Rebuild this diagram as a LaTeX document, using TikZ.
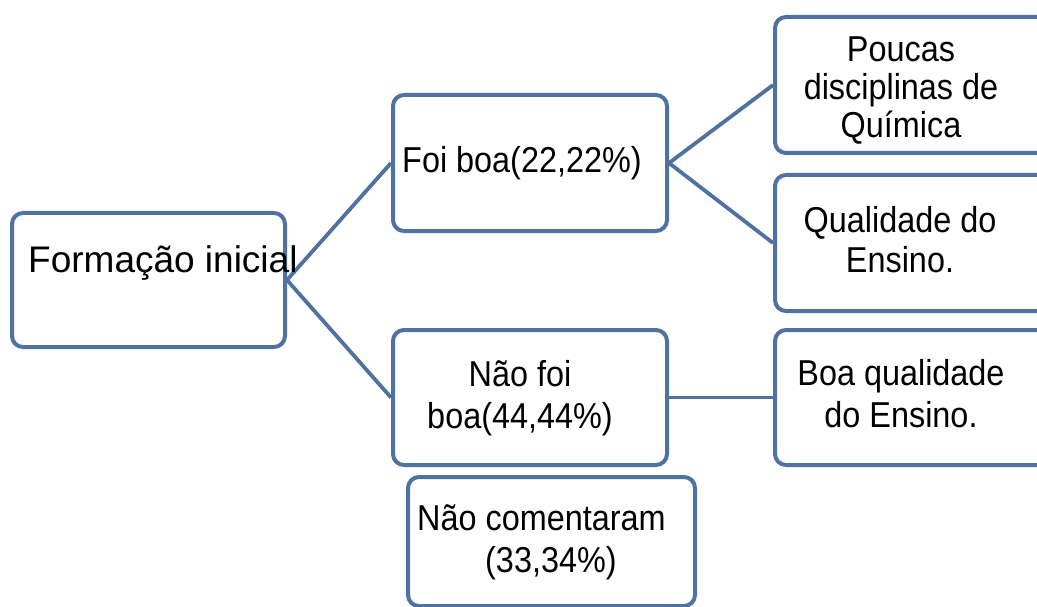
\documentclass[tikz,border=0pt]{standalone}
\usepackage{fontspec}
\setmainfont{Liberation Sans}
\newfontfamily\nfont[FakeStretch=0.9]{Liberation Sans}
\definecolor{boxblue}{RGB}{79,114,160}
\begin{document}
\begin{tikzpicture}[x=1pt,y=-1pt,
  box/.style={draw=boxblue, line width=4pt, rounded corners=11pt, rectangle, inner sep=0pt},
  conn/.style={draw=boxblue, line width=3.8pt},
  txt/.style={inner sep=0pt, anchor=base, font=\nfont\fontsize{36}{40}\selectfont}]
\useasboundingbox (0,0) rectangle (1037,607);
% boxes
\node[box, minimum width=273pt, minimum height=134pt] (A) at (148.5,280) {};
\node[box, minimum width=274pt, minimum height=136pt] (B) at (530,163) {};
\node[box, minimum width=275pt, minimum height=136pt] (C) at (912.5,85) {};
\node[box, minimum width=275pt, minimum height=136pt] (D) at (912.5,243) {};
\node[box, minimum width=274pt, minimum height=135pt] (E) at (530,397.5) {};
\node[box, minimum width=275pt, minimum height=135pt] (F) at (912.5,397.5) {};
\node[box, minimum width=287pt, minimum height=129pt] (G) at (551.5,541.5) {};
% connectors
\draw[conn] (A.east) -- (B.west);
\draw[conn] (A.east) -- (E.west);
\draw[conn] (B.east) -- (C.west);
\draw[conn] (B.east) -- (D.west);
\draw[conn] (E.east) -- (F.west);
% texts
\node[txt, font=\fontsize{37}{40}\selectfont, anchor=base west] (tA) at (28,272) {Formação inicial};
\node[txt, anchor=base west] (tB) at (402,173) {Foi boa(22,22\%)};
\node[txt, font=\nfont\fontsize{36}{37.5}\selectfont] (tC) at (901,62) {\begin{tabular}[t]{@{}c@{}}Poucas\\disciplinas de\\Química\end{tabular}};
\node[txt] (tD) at (900,233) {\begin{tabular}[t]{@{}c@{}}Qualidade do\\Ensino.\end{tabular}};
\node[txt, font=\nfont\fontsize{36}{42}\selectfont] (tE) at (520,386) {\begin{tabular}[t]{@{}c@{}}Não foi\\boa(44,44\%)\end{tabular}};
\node[txt, font=\nfont\fontsize{36}{42}\selectfont] (tF) at (901,385) {\begin{tabular}[t]{@{}c@{}}Boa qualidade\\do Ensino.\end{tabular}};
\node[txt, font=\nfont\fontsize{36}{42}\selectfont, anchor=base west] (tG) at (417,530) {\begin{tabular}[t]{@{}l@{}}Não comentaram\\\hspace{68pt}(33,34\%)\end{tabular}};
\end{tikzpicture}
\end{document}
